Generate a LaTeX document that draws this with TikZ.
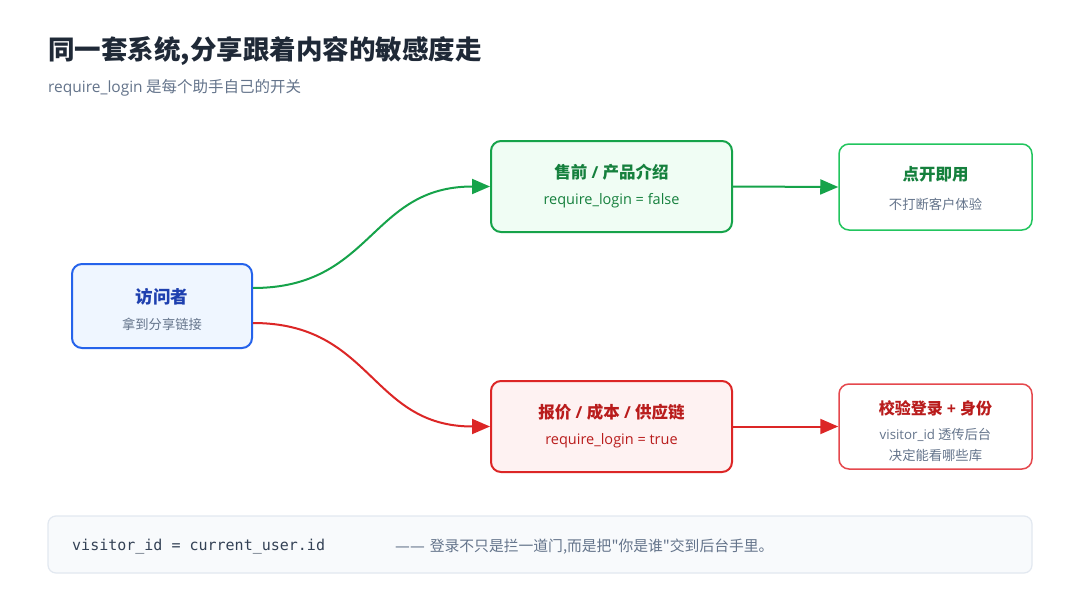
\documentclass[tikz,border=0pt]{standalone}
\usepackage{fontspec}
\setmainfont{Noto Sans CJK SC}
\newfontfamily\rawcjk{Noto Sans CJK SC}[Ligatures=TeXOff]
\newfontfamily\lat{Open Sans}
\newfontfamily\dv{DejaVu Sans}
\newfontfamily\codefont{DejaVu Sans Mono}
\usetikzlibrary{arrows.meta}
\definecolor{ink}{HTML}{1F2937}
\definecolor{subgray}{HTML}{64748B}
\definecolor{bluebd}{HTML}{2563EB}
\definecolor{bluebg}{HTML}{EFF6FF}
\definecolor{bluetx}{HTML}{1E40AF}
\definecolor{greenbd}{HTML}{16A34A}
\definecolor{greenbg}{HTML}{F0FDF4}
\definecolor{greentx}{HTML}{15803D}
\definecolor{greenlt}{HTML}{22C55E}
\definecolor{redbd}{HTML}{DC2626}
\definecolor{redbg}{HTML}{FEF2F2}
\definecolor{redtx}{HTML}{B91C1C}
\definecolor{redlt}{HTML}{E5484D}
\definecolor{notebg}{HTML}{F8FAFC}
\definecolor{notebd}{HTML}{E2E8F0}
\definecolor{codetx}{HTML}{334155}
\newcommand{\slsep}{{\lat\ /\ }}
\tikzset{
  box/.style={draw, rounded corners=10pt, line width=2pt, inner sep=0pt},
  boxlt/.style={draw, rounded corners=10pt, line width=1.5pt, inner sep=0pt, fill=white},
  ttl/.style={font=\bfseries\fontsize{16.5}{19}\selectfont, inner sep=0pt},
  sub/.style={font=\fontsize{13.3}{15}\selectfont, text=subgray, inner sep=0pt},
  code/.style={font=\lat\fontsize{14.5}{16}\selectfont, inner sep=0pt},
  conn/.style={line width=2pt, -{Triangle[length=18pt,width=15pt]}},
}
\begin{document}
\begin{tikzpicture}[x=1pt,y=-1pt]
\useasboundingbox[fill=white] (0,0) rectangle (1080,600);
% header
\node[anchor=west, inner sep=0pt, font=\bfseries\fontsize{26.5}{30}\selectfont, text=ink] (title) at (48,51) {同一套系统,分享跟着内容的敏感度走};
\node[anchor=west, inner sep=0pt, font=\fontsize{15.5}{18}\selectfont, text=subgray] (subtitle) at (48,88) {{\lat require\_login} 是每个助手自己的开关};
% boxes
\node[box, draw=bluebd, fill=bluebg, minimum width=180pt, minimum height=84pt] (vis) at (162,306) {};
\node[ttl, text=bluetx, font=\bfseries\fontsize{17.5}{19}\selectfont] (visT) at (162,297) {访问者};
\node[sub] (visS) at (162,324) {拿到分享链接};

\node[box, draw=greenbd, fill=greenbg, minimum width=241pt, minimum height=91pt] (pre) at (611.5,186.5) {};
\node[ttl, text=greentx] (preT) at (611.5,172) {售前\slsep 产品介绍};
\node[code, text=greentx] (preS) at (611.5,201) {require\_login = false};

\node[boxlt, draw=greenlt, minimum width=193pt, minimum height=86pt] (open) at (935.5,187) {};
\node[ttl, text=greentx] (openT) at (935.5,174) {点开即用};
\node[sub] (openS) at (935.5,204) {不打断客户体验};

\node[box, draw=redbd, fill=redbg, minimum width=241pt, minimum height=91pt] (quote) at (611.5,426.5) {};
\node[ttl, text=redtx] (quoteT) at (611.5,412) {报价\slsep 成本\slsep 供应链};
\node[code, text=redtx] (quoteS) at (611.5,441) {require\_login = true};

\node[boxlt, draw=redlt, minimum width=193pt, minimum height=85pt] (check) at (935.5,426.5) {};
\node[ttl, text=redtx, font=\bfseries\fontsize{16}{18}\selectfont] (checkT) at (935.5,408) {校验登录{\lat\ +\ }身份};
\node[sub] (checkS1) at (935.5,435) {{\lat visitor\_id} 透传后台};
\node[sub] (checkS2) at (935.5,455) {决定能看哪些库};

% connectors
\draw[conn, greenbd] ([yshift=18pt]vis.east) .. controls +(120,0) and +(-120,0) .. (pre.west);
\draw[conn, redbd] ([yshift=-17pt]vis.east) .. controls +(120,0) and +(-120,0) .. (quote.west);
\draw[conn, greenbd] (pre.east) -- (open.west);
\draw[conn, redbd] (quote.east) -- (check.west);

% note
\node[draw=notebd, fill=notebg, line width=1.2pt, rounded corners=8pt, minimum width=984pt, minimum height=57pt, inner sep=0pt] (note) at (540,544.5) {};
\node[anchor=west, inner sep=0pt, font=\codefont\fontsize{15}{18}\selectfont, text=codetx] (noteCode) at (72,547) {visitor\_id = current\_user.id};
\node[anchor=west, inner sep=0pt, font=\fontsize{14.8}{16}\selectfont, text=subgray] (noteText) at (395,547) {{\dv ——}\hspace{5pt}登录不只是拦一道门,而是把{\rawcjk "}你是谁{\rawcjk "}交到后台手里。};
\end{tikzpicture}
\end{document}
